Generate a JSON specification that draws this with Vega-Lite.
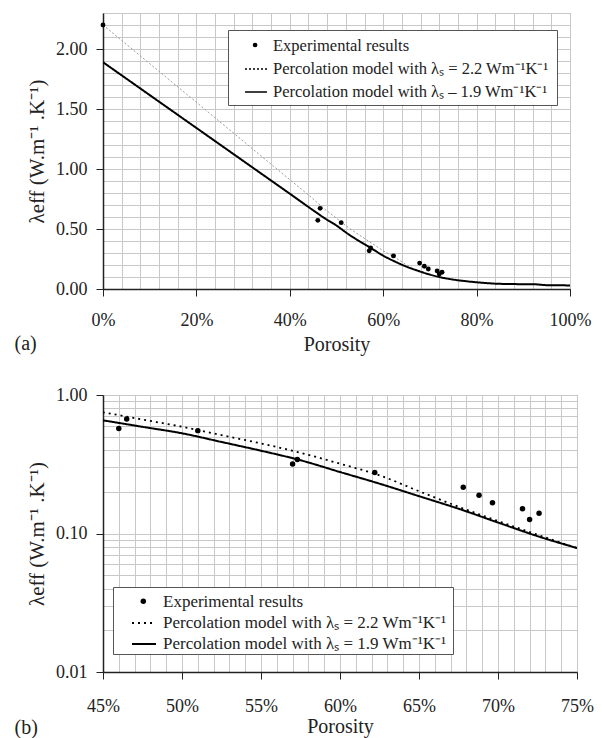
{
  "$schema": "https://vega.github.io/schema/vega-lite/v6.json",
  "padding": {"left": 14, "top": 12, "right": 10, "bottom": 0},
  "background": "white",
  "resolve": {
    "scale": {"strokeDash": "independent", "shape": "independent"},
    "legend": {"strokeDash": "independent", "shape": "independent"}
  },
  "config": {
    "font": "Liberation Serif, Times New Roman, serif",
    "view": {"stroke": "#888", "strokeWidth": 1},
    "axis": {
      "labelFont": "Liberation Serif, Times New Roman, serif", "titleFont": "Liberation Serif, Times New Roman, serif",
      "labelFontSize": 18, "titleFontSize": 20, "titleFontWeight": "normal",
      "labelColor": "#222", "titleColor": "#222",
      "gridColor": "#c8c8c8", "gridWidth": 1, "gridOpacity": 1,
      "domainColor": "#222", "domainWidth": 1.5,
      "tickColor": "#222", "tickSize": 7, "labelPadding": 9,
      "labelOverlap": false, "labelFlush": false, "labelBound": false
    },
    "axisX": {"labelPadding": 15},
    "axisY": {"titlePadding": 8, "titleFontSize": 21, "titleFontWeight": "normal"},
    "legend": {"labelFont": "Liberation Serif, Times New Roman, serif"},
    "concat": {"spacing": 30}
  },
  "datasets": {
    "points": [
      {"porosity": 0, "lambda": 2.2},
      {"porosity": 46.0, "lambda": 0.572},
      {"porosity": 46.5, "lambda": 0.672},
      {"porosity": 51.0, "lambda": 0.553},
      {"porosity": 57.0, "lambda": 0.318},
      {"porosity": 57.3, "lambda": 0.342},
      {"porosity": 62.2, "lambda": 0.276},
      {"porosity": 67.8, "lambda": 0.216},
      {"porosity": 68.8, "lambda": 0.189},
      {"porosity": 69.65, "lambda": 0.167},
      {"porosity": 71.55, "lambda": 0.151},
      {"porosity": 72.0, "lambda": 0.126},
      {"porosity": 72.6, "lambda": 0.14}
    ],
    "models": [
      {"series": "1.9", "porosity": 0, "lambda": 1.89},
      {"series": "1.9", "porosity": 5, "lambda": 1.753},
      {"series": "1.9", "porosity": 10, "lambda": 1.616},
      {"series": "1.9", "porosity": 15, "lambda": 1.479},
      {"series": "1.9", "porosity": 20, "lambda": 1.342},
      {"series": "1.9", "porosity": 25, "lambda": 1.205},
      {"series": "1.9", "porosity": 30, "lambda": 1.068},
      {"series": "1.9", "porosity": 35, "lambda": 0.931},
      {"series": "1.9", "porosity": 40, "lambda": 0.794},
      {"series": "1.9", "porosity": 45, "lambda": 0.656},
      {"series": "1.9", "porosity": 47.5, "lambda": 0.589},
      {"series": "1.9", "porosity": 50, "lambda": 0.529},
      {"series": "1.9", "porosity": 52.5, "lambda": 0.458},
      {"series": "1.9", "porosity": 55, "lambda": 0.396},
      {"series": "1.9", "porosity": 57.5, "lambda": 0.338},
      {"series": "1.9", "porosity": 60, "lambda": 0.278},
      {"series": "1.9", "porosity": 62.5, "lambda": 0.229},
      {"series": "1.9", "porosity": 65, "lambda": 0.186},
      {"series": "1.9", "porosity": 67.5, "lambda": 0.151},
      {"series": "1.9", "porosity": 70, "lambda": 0.12},
      {"series": "1.9", "porosity": 72.5, "lambda": 0.0957},
      {"series": "1.9", "porosity": 75, "lambda": 0.0786},
      {"series": "1.9", "porosity": 77.5, "lambda": 0.066},
      {"series": "1.9", "porosity": 80, "lambda": 0.056},
      {"series": "1.9", "porosity": 82.5, "lambda": 0.048},
      {"series": "1.9", "porosity": 85, "lambda": 0.043},
      {"series": "1.9", "porosity": 90, "lambda": 0.04},
      {"series": "1.9", "porosity": 92.5, "lambda": 0.039},
      {"series": "1.9", "porosity": 95, "lambda": 0.032},
      {"series": "1.9", "porosity": 100, "lambda": 0.03},
      {"series": "2.2", "porosity": 0, "lambda": 2.2},
      {"series": "2.2", "porosity": 5, "lambda": 2.039},
      {"series": "2.2", "porosity": 10, "lambda": 1.878},
      {"series": "2.2", "porosity": 15, "lambda": 1.717},
      {"series": "2.2", "porosity": 20, "lambda": 1.556},
      {"series": "2.2", "porosity": 25, "lambda": 1.394},
      {"series": "2.2", "porosity": 30, "lambda": 1.233},
      {"series": "2.2", "porosity": 35, "lambda": 1.072},
      {"series": "2.2", "porosity": 40, "lambda": 0.911},
      {"series": "2.2", "porosity": 45, "lambda": 0.75},
      {"series": "2.2", "porosity": 47.5, "lambda": 0.665},
      {"series": "2.2", "porosity": 50, "lambda": 0.59},
      {"series": "2.2", "porosity": 52.5, "lambda": 0.513},
      {"series": "2.2", "porosity": 55, "lambda": 0.447},
      {"series": "2.2", "porosity": 57.5, "lambda": 0.383},
      {"series": "2.2", "porosity": 60, "lambda": 0.319},
      {"series": "2.2", "porosity": 62.5, "lambda": 0.263},
      {"series": "2.2", "porosity": 65, "lambda": 0.202},
      {"series": "2.2", "porosity": 67.5, "lambda": 0.156},
      {"series": "2.2", "porosity": 70, "lambda": 0.123},
      {"series": "2.2", "porosity": 72.5, "lambda": 0.098},
      {"series": "2.2", "porosity": 75, "lambda": 0.0786},
      {"series": "2.2", "porosity": 77.5, "lambda": 0.066},
      {"series": "2.2", "porosity": 80, "lambda": 0.056},
      {"series": "2.2", "porosity": 82.5, "lambda": 0.048},
      {"series": "2.2", "porosity": 85, "lambda": 0.043},
      {"series": "2.2", "porosity": 90, "lambda": 0.04},
      {"series": "2.2", "porosity": 92.5, "lambda": 0.039},
      {"series": "2.2", "porosity": 95, "lambda": 0.032},
      {"series": "2.2", "porosity": 100, "lambda": 0.03}
    ]
  },
  "vconcat": [
    {
      "width": 467,
      "height": 276,
      "title": {"text": "(a)", "orient": "bottom", "anchor": "start", "font": "Liberation Serif, Times New Roman, serif", "fontSize": 20, "fontWeight": "normal", "color": "#222", "offset": -20, "dx": -12},
      "resolve": {"axis": {"x": "independent", "y": "independent"}},
      "layer": [
        {
          "data": {"name": "models"},
          "transform": [{"filter": "datum.series === '2.2'"}],
          "mark": {"type": "line", "interpolate": "monotone", "clip": true, "color": "#9a9a9a", "strokeWidth": 1},
          "encoding": {
            "x": {
              "field": "porosity", "type": "quantitative",
              "scale": {"domain": [0, 100], "nice": false, "zero": false},
              "axis": {"orient": "top", "grid": true, "labels": false, "ticks": false, "domain": false, "title": null,
                "values": [0, 4, 8, 12, 16, 20, 24, 28, 32, 36, 40, 44, 48, 52, 56, 60, 64, 68, 72, 76, 80, 84, 88, 92, 96, 100]}
            },
            "y": {
              "field": "lambda", "type": "quantitative",
              "scale": {"domain": [0, 2.3], "nice": false},
              "axis": {"orient": "right", "grid": true, "labels": false, "ticks": false, "domain": false, "title": null,
                "values": [0, 0.1, 0.2, 0.3, 0.4, 0.5, 0.6, 0.7, 0.8, 0.9, 1, 1.1, 1.2, 1.3, 1.4, 1.5, 1.6, 1.7, 1.8, 1.9, 2, 2.1, 2.2, 2.3]}
            },
            "strokeDash": {
              "datum": "2.2",
              "scale": {"domain": ["exp", "2.2", "1.9"], "range": [[0, 1000], [2, 2], [1, 0]]},
              "legend": {
                "orient": "none", "legendX": 125, "legendY": 17, "title": null,
                "labelExpr": "datum.value === 'exp' ? 'Experimental results' : (datum.value === '2.2' ? 'Percolation model with  λₛ = 2.2 Wm⁻¹K⁻¹' : 'Percolation model with  λₛ – 1.9 Wm⁻¹K⁻¹')",
                "labelFontSize": 16.5, "labelColor": "#222", "labelLimit": 600,
                "symbolType": "stroke", "symbolSize": 484, "rowPadding": 2, "padding": 4, "symbolOffset": 12, "labelOffset": 5,
                "symbolStrokeColor": "black", "symbolStrokeWidth": 1.6,
                "strokeColor": "#555", "fillColor": "white"
              }
            }
          }
        },
        {
          "data": {"name": "models"},
          "transform": [{"filter": "datum.series === '1.9'"}],
          "mark": {"type": "line", "interpolate": "monotone", "clip": true, "color": "black", "strokeWidth": 2},
          "encoding": {
            "x": {
              "field": "porosity", "type": "quantitative",
              "axis": {"orient": "bottom", "grid": false, "title": "Porosity", "titlePadding": 5,
                "values": [0, 20, 40, 60, 80, 100], "labelExpr": "datum.value + '%'"}
            },
            "y": {
              "field": "lambda", "type": "quantitative",
              "axis": {"orient": "left", "grid": false, "title": "λeff (W.m⁻¹ .K⁻¹)",
                "values": [0, 0.5, 1, 1.5, 2], "format": ".2f"}
            },
            "strokeDash": {"datum": "1.9"}
          }
        },
        {
          "data": {"name": "points"},
          "mark": {"type": "point", "filled": true, "color": "black", "size": 24, "opacity": 1},
          "encoding": {
            "x": {"field": "porosity", "type": "quantitative", "axis": null},
            "y": {"field": "lambda", "type": "quantitative", "axis": null},
            "shape": {
              "datum": "exp",
              "scale": {"domain": ["exp"], "range": ["circle"]},
              "legend": {
                "orient": "none", "legendX": 149.6, "legendY": 29.5, "title": null,
                "labelExpr": "''", "labelFontSize": 5, "labelOffset": 0,
                "symbolSize": 22, "padding": 0, "symbolOffset": 0,
                "symbolFillColor": "black", "symbolStrokeWidth": 0
              }
            }
          }
        }
      ]
    },
    {
      "width": 474,
      "height": 277,
      "title": {"text": "(b)", "orient": "bottom", "anchor": "start", "font": "Liberation Serif, Times New Roman, serif", "fontSize": 20, "fontWeight": "normal", "color": "#222", "offset": -18, "dx": -12},
      "resolve": {"axis": {"x": "independent", "y": "independent"}},
      "layer": [
        {
          "data": {"name": "models"},
          "transform": [{"filter": "datum.series === '2.2'"}],
          "mark": {"type": "line", "interpolate": "monotone", "clip": true, "color": "black", "strokeWidth": 1.8},
          "encoding": {
            "x": {
              "field": "porosity", "type": "quantitative",
              "scale": {"domain": [45, 75], "nice": false, "zero": false},
              "axis": {"orient": "top", "grid": true, "labels": false, "ticks": false, "domain": false, "title": null,
                "values": [45, 46, 47, 48, 49, 50, 51, 52, 53, 54, 55, 56, 57, 58, 59, 60, 61, 62, 63, 64, 65, 66, 67, 68, 69, 70, 71, 72, 73, 74, 75]}
            },
            "y": {
              "field": "lambda", "type": "quantitative",
              "scale": {"type": "log", "domain": [0.01, 1], "nice": false},
              "axis": {"orient": "right", "grid": true, "labels": false, "ticks": false, "domain": false, "title": null,
                "values": [0.01, 0.02, 0.03, 0.04, 0.05, 0.06, 0.07, 0.08, 0.09, 0.1, 0.2, 0.3, 0.4, 0.5, 0.6, 0.7, 0.8, 0.9, 1]}
            },
            "strokeDash": {
              "datum": "2.2",
              "scale": {"domain": ["exp", "2.2", "1.9"], "range": [[0, 1000], [2, 4], [1, 0]]},
              "legend": {
                "orient": "none", "legendX": 10, "legendY": 192, "title": null,
                "labelExpr": "datum.value === 'exp' ? 'Experimental results' : 'Percolation model with  λₛ = ' + datum.value + ' Wm⁻¹K⁻¹'",
                "labelFontSize": 17, "labelColor": "#222", "labelLimit": 600,
                "symbolType": "stroke", "symbolSize": 576, "rowPadding": -2, "padding": 2, "symbolOffset": 16, "labelOffset": 6,
                "symbolStrokeColor": "black", "symbolStrokeWidth": 2,
                "strokeColor": "#555", "fillColor": "white"
              }
            }
          }
        },
        {
          "data": {"name": "models"},
          "transform": [{"filter": "datum.series === '1.9'"}],
          "mark": {"type": "line", "interpolate": "monotone", "clip": true, "color": "black", "strokeWidth": 2},
          "encoding": {
            "x": {
              "field": "porosity", "type": "quantitative",
              "axis": {"orient": "bottom", "grid": false, "title": "Porosity", "titlePadding": 1, "labelPadding": 18,
                "values": [45, 50, 55, 60, 65, 70, 75], "labelExpr": "datum.value + '%'"}
            },
            "y": {
              "field": "lambda", "type": "quantitative",
              "axis": {"orient": "left", "grid": false, "title": "λeff (W.m⁻¹ .K⁻¹)",
                "values": [0.01, 0.1, 1], "format": ".2f"}
            },
            "strokeDash": {"datum": "1.9"}
          }
        },
        {
          "data": {"name": "points"},
          "mark": {"type": "point", "filled": true, "color": "black", "size": 30, "opacity": 1, "clip": true},
          "encoding": {
            "x": {"field": "porosity", "type": "quantitative", "axis": null},
            "y": {"field": "lambda", "type": "quantitative", "axis": null},
            "shape": {
              "datum": "exp",
              "scale": {"domain": ["exp"], "range": ["circle"]},
              "legend": {
                "orient": "none", "legendX": 37.3, "legendY": 203.3, "title": null,
                "labelExpr": "''", "labelFontSize": 5, "labelOffset": 0,
                "symbolSize": 30, "padding": 0, "symbolOffset": 0,
                "symbolFillColor": "black", "symbolStrokeWidth": 0
              }
            }
          }
        }
      ]
    }
  ]
}
